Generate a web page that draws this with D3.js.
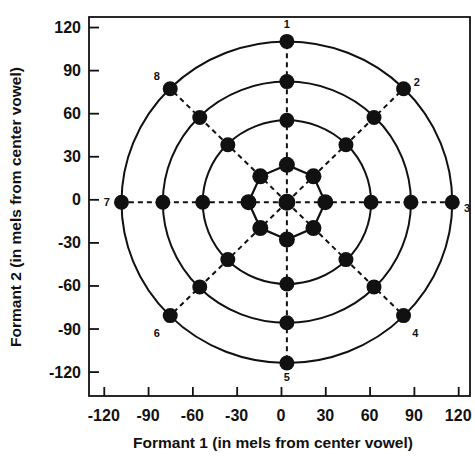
<!DOCTYPE html>
<html>
<head>
<meta charset="utf-8">
<script src="https://cdn.jsdelivr.net/npm/d3@7"></script>
<style>
  body { margin: 0; background: #fff; }
  text { font-family: "Liberation Sans Narrow", "Arial Narrow", "Liberation Sans", Arial, sans-serif; font-weight: bold; fill: #111; }
</style>
</head>
<body>
<div id="chart"></div>
<script>
// direction labels, one per spoke
const dirLabels = ["1", "2", "3", "4", "5", "6", "7", "8"];

// center vowel
const centerX = 4;
const centerY = -2;

// vowels on each ring, direction 1..8 (F1, F2 in mels)
const ring1X = [4, 22, 30, 22, 4, -14, -22, -14];
const ring1Y = [24, 16, -2, -20, -28, -20, -2, 16];
const ring2X = [4, 44, 61, 44, 4, -36, -53, -36];
const ring2Y = [55, 38, -2, -42, -59, -42, -2, 38];
const ring3X = [4, 63, 88, 63, 4, -55, -80, -55];
const ring3Y = [82, 57, -2, -61, -86, -61, -2, 57];
const ring4X = [4, 83, 116, 83, 4, -75, -108, -75];
const ring4Y = [110, 77, -2, -81, -114, -81, -2, 77];

// solid circles drawn through the outer three rings
const circleRadii = [57, 84, 112];

// label positions for the spoke numbers
const labelX = [4, 92, 126, 91, 4, -84, -118, -84];
const labelY = [122, 82, -6, -93, -124, -93, -2, 86];

const xTicks = [-120, -90, -60, -30, 0, 30, 60, 90, 120];
const yTicks = [-120, -90, -60, -30, 0, 30, 60, 90, 120];

const width = 475, height = 467;

const svg = d3.select("#chart")
  .append("svg")
  .attr("width", width)
  .attr("height", height);

const x = d3.scaleLinear().domain([-130, 128]).range([89, 470]);
const y = d3.scaleLinear().domain([-137, 127]).range([396, 17]);

// frame
svg.append("rect")
  .attr("x", x(-130))
  .attr("y", y(127))
  .attr("width", x(128) - x(-130))
  .attr("height", y(-137) - y(127))
  .attr("fill", "none")
  .attr("stroke", "#111")
  .attr("stroke-width", 1.8);

// axes with inward ticks
const xAxis = svg.append("g")
  .attr("transform", `translate(0,${y(-137)})`)
  .call(d3.axisTop(x).tickValues(xTicks).tickSize(9).tickFormat(""));
const yAxis = svg.append("g")
  .attr("transform", `translate(${x(-130)},0)`)
  .call(d3.axisRight(y).tickValues(yTicks).tickSize(10).tickFormat(""));
[xAxis, yAxis].forEach(g => {
  g.select(".domain").remove();
  g.selectAll("line").attr("stroke", "#111").attr("stroke-width", 1.8);
});

svg.selectAll(".xlab")
  .data(xTicks)
  .join("text")
  .attr("x", d => x(d))
  .attr("y", 421)
  .attr("text-anchor", "middle")
  .attr("font-size", 16)
  .text(d => d);

svg.selectAll(".ylab")
  .data(yTicks)
  .join("text")
  .attr("x", 81)
  .attr("y", d => y(d) + 6)
  .attr("text-anchor", "end")
  .attr("font-size", 16)
  .text(d => d);

svg.append("text")
  .attr("x", 273)
  .attr("y", 448)
  .attr("text-anchor", "middle")
  .attr("font-size", 15.5)
  .text("Formant 1 (in mels from center vowel)");

svg.append("text")
  .attr("transform", "translate(21,207) rotate(-90)")
  .attr("text-anchor", "middle")
  .attr("font-size", 15.5)
  .text("Formant 2 (in mels from center vowel)");

// circles
svg.selectAll(".ring")
  .data(circleRadii)
  .join("ellipse")
  .attr("cx", x(centerX))
  .attr("cy", y(centerY))
  .attr("rx", d => x(centerX + d) - x(centerX))
  .attr("ry", d => y(centerY) - y(centerY + d))
  .attr("fill", "none")
  .attr("stroke", "#111")
  .attr("stroke-width", 2);

// inner octagon
const inner = ring1X.map((d, i) => [d, ring1Y[i]]);
svg.append("path")
  .attr("d", d3.line().x(d => x(d[0])).y(d => y(d[1])).curve(d3.curveLinearClosed)(inner))
  .attr("fill", "none")
  .attr("stroke", "#111")
  .attr("stroke-width", 2.2);

// dashed spokes
svg.selectAll(".spoke")
  .data(ring4X)
  .join("line")
  .attr("x1", x(centerX))
  .attr("y1", y(centerY))
  .attr("x2", d => x(d))
  .attr("y2", (d, i) => y(ring4Y[i]))
  .attr("stroke", "#111")
  .attr("stroke-width", 2)
  .attr("stroke-dasharray", "5,4");

// vowel dots
const dots = [[centerX, centerY]];
[[ring1X, ring1Y], [ring2X, ring2Y], [ring3X, ring3Y], [ring4X, ring4Y]].forEach(([xs, ys]) => {
  xs.forEach((d, i) => dots.push([d, ys[i]]));
});
svg.selectAll(".dot")
  .data(dots)
  .join("circle")
  .attr("cx", d => x(d[0]))
  .attr("cy", d => y(d[1]))
  .attr("r", (d, i) => i === 0 ? 8.5 : (i <= 8 ? 8 : 7.5))
  .attr("fill", "#111");

// spoke numbers
svg.selectAll(".dirlab")
  .data(dirLabels)
  .join("text")
  .attr("x", (d, i) => x(labelX[i]))
  .attr("y", (d, i) => y(labelY[i]) + 4)
  .attr("text-anchor", "middle")
  .attr("font-size", 11)
  .text(d => d);
</script>
</body>
</html>
